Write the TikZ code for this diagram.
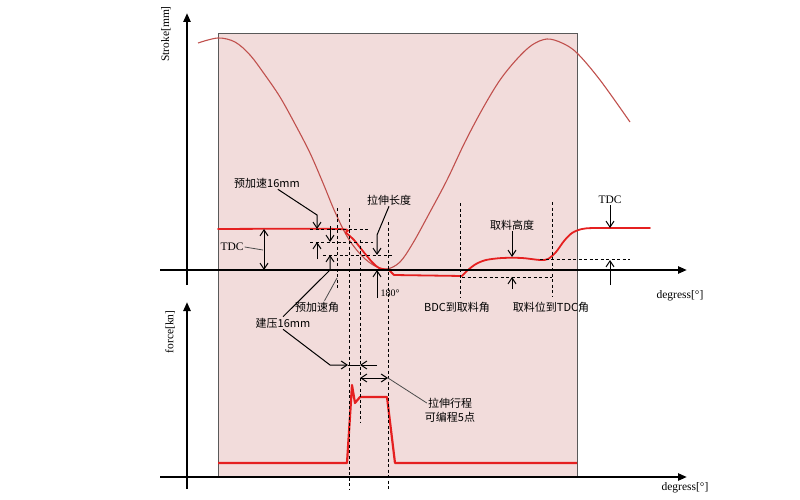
\documentclass[tikz,border=0pt]{standalone}
\usepackage{fontspec}
\setmainfont{Liberation Serif}
\newfontfamily\cjk{Noto Sans CJK SC}
\usepackage{tikz}
\usetikzlibrary{arrows.meta,positioning}
\definecolor{bgpink}{HTML}{F2DCDB}
\definecolor{strokecol}{HTML}{C0504D}
\definecolor{motion}{HTML}{E52020}

\begin{document}
\begin{tikzpicture}[x=1pt,y=-1pt,>={Straight Barb[length=6pt,width=8pt]},
		frame/.style={draw=black!65,fill=bgpink,line width=.8pt},
		axis/.style={line width=2.4pt,-{Triangle[length=9pt,width=7pt]}},
		guide/.style={line width=.8pt,dash pattern=on 3pt off 2.5pt},
		dim/.style={line width=1pt},
		leader/.style={line width=.8pt,draw=black!70},
		cn/.style={font=\cjk\fontsize{11}{14}\selectfont,inner sep=1pt},
		en/.style={font=\fontsize{11.5}{13}\selectfont,inner sep=1pt}]
		\useasboundingbox (0,0) rectangle (800,500);
		
		% frame
		\draw[frame] (218,33) rectangle (577,477);
		
		% stroke curve
		\draw[strokecol,line width=1.1pt] plot[smooth,tension=.55] coordinates {(198,43) (218,38) (235,42) (250,55) (265,75) (280,97) (295,124) (310,153) (323,183) (335,212) (348,238) (362,256) (375,266) (387,269) (400,262) (413,243) (430,212) (447,180) (465,142) (483,108) (500,80) (517,59) (532,45) (547,39) (562,43) (577,53) (600,80) (630,122)};
		
		% motion curve
		\draw[motion,line width=1.8pt,line cap=round] plot[smooth,tension=.5] coordinates {(218,229) (338,229) (346,233) (354,240) (362,250) (372,262) (379,268) (389,270)};
		\draw[motion,line width=1.8pt,line join=round] (389,270) -- (394,275) -- (462,276);
		\draw[motion,line width=1.8pt,line cap=round] plot[smooth,tension=.5] coordinates {(462,276) (468,270) (476,264) (486,260) (502,258) (522,258) (540,260) (548,259) (556,252) (564,241) (572,233) (582,229) (596,228) (650,228)};
		
		% force curve
		\draw[motion,line width=2.2pt,line join=round] (218,463) -- (347,463) -- (352,385) -- (355,403) -- (360,397) -- (387,397) -- (395,463) -- (577,463);
		
		% guides
		\foreach \x/\a/\b in {337/208/290, 349/208/490, 360/240/423, 388/222/490, 460/203/297, 552/202/297}
		\draw[guide] (\x,\a) -- (\x,\b);
		\foreach \y/\a/\b in {229/310/368, 242/310/373, 255/323/393, 277/462/552, 259/540/630}
		\draw[guide] (\a,\y) -- (\b,\y);
		
		% axes
		\draw[axis] (160,270) -- (687,270);
		\draw[axis] (187,285) -- (187,13);
		\draw[axis] (160,477) -- (687,477);
		\draw[axis] (187,489) -- (187,302);
		
		% labels
		\node[en,rotate=90] (ystroke) at (166,34) {Stroke[mm]};
		\node[en,rotate=90] (yforce) at (170,332) {force[kn]};
		\node[en] (xdeg1) at (680,296) {degress[°]};
		\node[en] (xdeg2) at (685,488) {degress[°]};
		\node[cn] (pre) at (267,183) {预加速16mm};
		\node[en] (tdcL) at (232,247) {TDC};
		\node[cn] (preang) at (317,307) {预加速角};
		\node[cn] (build) at (283,323) {建压16mm};
		\node[cn] (drawlen) at (389,200) {拉伸长度};
		\node[en,font=\fontsize{10}{11}\selectfont] (bdcdeg) at (390,293) {180°};
		\node[cn] (bdc) at (457,307) {BDC到取料角};
		\node[cn] (pick) at (512,225) {取料高度};
		\node[cn] (back) at (551,307) {取料位到TDC角};
		\node[en] (tdcR) at (610,200) {TDC};
		\node[cn] (prog1) at (450,403) {拉伸行程};
		\node[cn] (prog2) at (450,417) {可编程5点};
		
		% upper dims
		\draw[dim,<->] (264,229) -- (264,270);
		\draw[leader] (tdcL.east) -- (263,250);
		\draw[dim,->] (pre.-30) -- (317,215) -- (317,229);
		\draw[dim,->] (317,259) -- (317,242);
		\draw[dim,->] (330,226) -- (330,242);
		\draw[dim,->] (build.north) -- (330,270) -- (330,255);
		\draw[leader] (preang.40) -- (337,278);
		\draw[dim,->] (drawlen.south) -- (377,235) -- (377,255);
		\draw[dim,->] (377,298) -- (377,270);
		\draw[dim,->] (pick.south) -- (512,257);
		\draw[dim,->] (512,289) -- (512,277);
		\draw[dim,->] (tdcR.south) -- (610,228);
		\draw[dim,->] (610,285) -- (610,260);
		
		% lower dims
		\draw[dim,->] (build.south) -- (330,365) -- (348,365);
		\draw[dim] (348,365) -- (360,365);
		\draw[dim,->] (377,365) -- (360,365);
		\draw[dim,<->] (360,378) -- (388,378);
		\draw[leader] (388,378) -- (prog1.west);
\end{tikzpicture}
\end{document}
